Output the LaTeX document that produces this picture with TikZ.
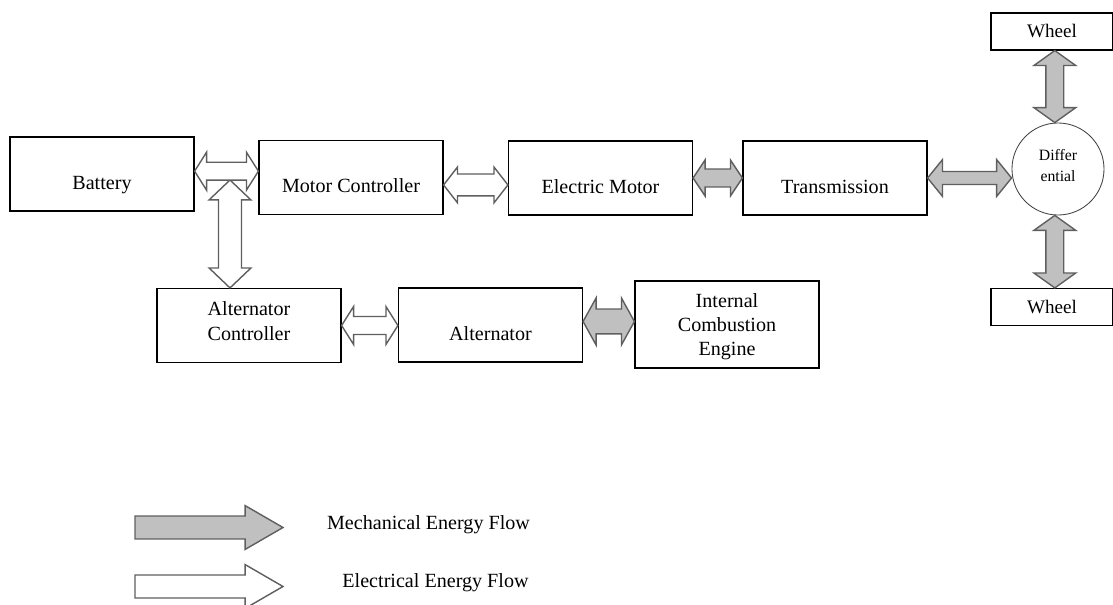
\documentclass[tikz,border=0pt]{standalone}
\usepackage{fontspec}
\setmainfont{Liberation Serif}
\usetikzlibrary{calc}
\definecolor{mechgray}{RGB}{192,192,192}
\definecolor{flowedge}{RGB}{95,95,95}

% one pixel of the layout grid
\newcommand{\pxu}{0.7087pt}

% double headed flow arrow: style, from, to, head length, head half width, shaft half width
\newcommand{\flowarrow}[6]{%
  \draw[#1] (#2)
    -- ($(#2)!#4*\pxu!(#3)!#5*\pxu!90:(#3)$)
    -- ($(#2)!#4*\pxu!(#3)!#6*\pxu!90:(#3)$)
    -- ($(#3)!#4*\pxu!(#2)!#6*\pxu!-90:(#2)$)
    -- ($(#3)!#4*\pxu!(#2)!#5*\pxu!-90:(#2)$)
    -- (#3)
    -- ($(#3)!#4*\pxu!(#2)!#5*\pxu!90:(#2)$)
    -- ($(#3)!#4*\pxu!(#2)!#6*\pxu!90:(#2)$)
    -- ($(#2)!#4*\pxu!(#3)!#6*\pxu!-90:(#3)$)
    -- ($(#2)!#4*\pxu!(#3)!#5*\pxu!-90:(#3)$)
    -- cycle;}

% single headed legend arrow: style, tail, tip
\newcommand{\legendarrow}[3]{%
  \draw[#1] ($(#2)!11.5*\pxu!90:(#3)$)
    -- ($(#3)!38*\pxu!(#2)!11.5*\pxu!-90:(#2)$)
    -- ($(#3)!38*\pxu!(#2)!22*\pxu!-90:(#2)$)
    -- (#3)
    -- ($(#3)!38*\pxu!(#2)!22*\pxu!90:(#2)$)
    -- ($(#3)!38*\pxu!(#2)!11.5*\pxu!90:(#2)$)
    -- ($(#2)!11.5*\pxu!-90:(#3)$)
    -- cycle;}

\tikzset{
  block/.style={draw=black, line width=0.8pt, minimum width=4.6cm, minimum height=1.85cm, align=center, inner sep=0pt},
  lowtext/.style={text height=22pt, text depth=0pt},
  wheelbox/.style={draw=black, line width=0.8pt, minimum width=3.05cm, minimum height=0.925cm, inner sep=0pt, font=\fontsize{13.6}{16}\selectfont},
  diffcircle/.style={draw=black!75, line width=0.6pt, circle, minimum size=2.3cm, inner sep=0pt, align=center, text depth=5.6pt, font=\fontsize{11.2}{15}\selectfont},
  mechflow/.style={draw=flowedge, fill=mechgray, line width=1pt},
  elecflow/.style={draw=flowedge, fill=white, line width=1pt},
}

\begin{document}
\begin{tikzpicture}[x=0.025cm, y=-0.025cm, font=\fontsize{14.3}{17.4}\selectfont]
    \useasboundingbox (0,0) rectangle (1113,605);

    % Top row
    \node[block, lowtext] (battery) at (102,174) {Battery};
    \node[block, lowtext] (mc) at (351,177.5) {Motor Controller};
    \node[block, lowtext] (em) at (600.5,178) {Electric Motor};
    \node[block, lowtext] (trans) at (835,178) {Transmission};

    % Differential and wheels
    \node[diffcircle] (diff) at (1058,169) {Differ\\ential};
    \node[wheelbox] (wheel1) at (1052,31.5) {Wheel};
    \node[wheelbox] (wheel2) at (1052,307) {Wheel};

    % Bottom row
    \node[block, text depth=6.4pt] (ac) at (249,325.5) {Alternator\\Controller};
    \node[block, lowtext] (alt) at (490.5,325) {Alternator};
    \node[block, minimum height=2.175cm, text depth=0pt] (ice) at (727,324.5) {Internal\\Combustion\\Engine};

    % Arrow end points
    \coordinate (batR) at ([yshift=2pt]battery.east);
    \coordinate (mcL) at (batR -| mc.west);
    \coordinate (bjn) at (230,180);
    \coordinate (acT) at (bjn |- ac.north);
    \coordinate (mcR) at ([yshift=-5.3pt]mc.east);
    \coordinate (emL) at (mcR -| em.west);
    \coordinate (emR) at (em.east);
    \coordinate (trL) at (emR -| trans.west);
    \coordinate (trR) at (trans.east);
    \coordinate (dfL) at (trR -| diff.west);
    \coordinate (whT) at ([xshift=2pt]wheel1.south);
    \coordinate (dfT) at (whT |- diff.north);
    \coordinate (whB) at ([xshift=2pt]wheel2.north);
    \coordinate (dfB) at (whB |- diff.south);
    \coordinate (acR) at (ac.east);
    \coordinate (altL) at (acR -| alt.west);
    \coordinate (altR) at ([yshift=2.5pt]alt.east);
    \coordinate (iceL) at (altR -| ice.west);

    % Electrical flows
    \flowarrow{elecflow}{bjn}{acT}{20}{21}{11.5}
    \flowarrow{elecflow}{batR}{mcL}{12}{19}{9}
    \flowarrow{elecflow}{mcR}{emL}{14}{18}{11}
    \flowarrow{elecflow}{acR}{altL}{12}{19}{9}

    % Mechanical flows
    \flowarrow{mechflow}{emR}{trL}{12}{18}{9}
    \flowarrow{mechflow}{trR}{dfL}{15}{18.5}{6.5}
    \flowarrow{mechflow}{whT}{dfT}{15}{21}{9}
    \flowarrow{mechflow}{dfB}{whB}{15}{21}{9}
    \flowarrow{mechflow}{altR}{iceL}{13}{23.5}{12.5}

    % Legend
    \coordinate (mechA) at (135,527.5);
    \coordinate (mechB) at (283,527.5);
    \coordinate (elecA) at (135,586.5);
    \coordinate (elecB) at (283,586.5);
    \legendarrow{mechflow}{mechA}{mechB}
    \legendarrow{elecflow}{elecA}{elecB}
    \node (mechlabel) at (428.5,525) {Mechanical Energy Flow};
    \node (eleclabel) at (435.5,583) {Electrical Energy Flow};

\end{tikzpicture}
\end{document}
